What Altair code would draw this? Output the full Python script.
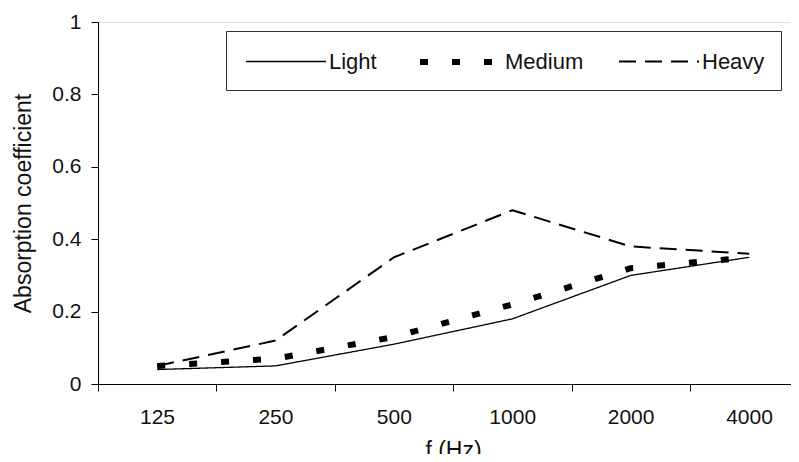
import json
import altair as alt
import pandas as pd

freqs = ["125", "250", "500", "1000", "2000", "4000"]
series_names = ["Light", "Medium", "Heavy"]
light = [0.04, 0.05, 0.11, 0.18, 0.30, 0.35]
medium = [0.05, 0.07, 0.13, 0.22, 0.32, 0.35]
heavy = [0.05, 0.12, 0.35, 0.48, 0.38, 0.36]
y_ticks = [0, 0.2, 0.4, 0.6, 0.8, 1]

rows = []
for name, vals in zip(series_names, [light, medium, heavy]):
    for i, (f, v) in enumerate(zip(freqs, vals)):
        rows.append({"idx": i, "freq": f, "value": v, "series": name})
df = pd.DataFrame(rows)

font = "Liberation Sans"
text_color = "#111"
label_expr = json.dumps(freqs) + "[round(datum.value + 0.5)]"

chart = (
    alt.Chart(df)
    .mark_line(color="black", strokeCap="butt", strokeJoin="round")
    .encode(
        x=alt.X(
            "idx:Q",
            scale=alt.Scale(domain=[-0.5, 5.353], nice=False, zero=False),
            axis=alt.Axis(
                title="f (Hz)",
                titleX=355,
                values=[-0.5, 0.5, 1.5, 2.5, 3.5, 4.5],
                labelExpr=label_expr,
                labelOffset=59,
                labelFlush=False,
                labelOverlap=False,
                grid=False,
                tickSize=7,
                tickColor="black",
                domainColor="black",
                labelPadding=15,
                labelFontSize=21,
                labelColor=text_color,
                titleFontSize=23,
                titleFontWeight="normal",
                titlePadding=12,
                titleColor=text_color,
            ),
        ),
        y=alt.Y(
            "value:Q",
            scale=alt.Scale(domain=[0, 1], nice=False),
            axis=alt.Axis(
                title="Absorption coefficient",
                values=y_ticks,
                format=".1~f",
                grid=False,
                tickSize=7,
                tickColor="black",
                domainColor="black",
                labelPadding=10,
                labelFontSize=21,
                labelColor=text_color,
                titleFontSize=23,
                titleFontWeight="normal",
                titlePadding=16,
                titleColor=text_color,
            ),
        ),
        strokeDash=alt.StrokeDash(
            "series:N",
            sort=series_names,
            scale=alt.Scale(domain=series_names, range=[[1, 0], [8, 24], [17, 9]]),
            legend=alt.Legend(
                title=None,
                orient="none",
                legendX=128,
                legendY=9,
                direction="horizontal",
                strokeColor="#333",
                padding=16,
                symbolType="M-0.75,0H5.917",
                symbolSize=576,
                symbolStrokeColor="black",
                symbolFillColor="transparent",
                labelFontSize=22,
                labelColor=text_color,
                labelOffset=61,
                columnPadding=31,
            ),
        ),
        strokeWidth=alt.StrokeWidth(
            "series:N",
            sort=series_names,
            scale=alt.Scale(type="ordinal", domain=series_names, range=[1.3, 6, 2]),
            legend=None,
        ),
        detail="series:N",
    )
    .properties(
        width=693,
        height=362,
        autosize=alt.AutoSizeParams(type="none"),
        padding={"left": 90, "top": 14, "right": 0, "bottom": 70},
    )
    .configure_view(stroke=None)
    .configure(font=font, background="white")
)

chart.save("out.html", embed_options={"renderer": "svg", "actions": False})
